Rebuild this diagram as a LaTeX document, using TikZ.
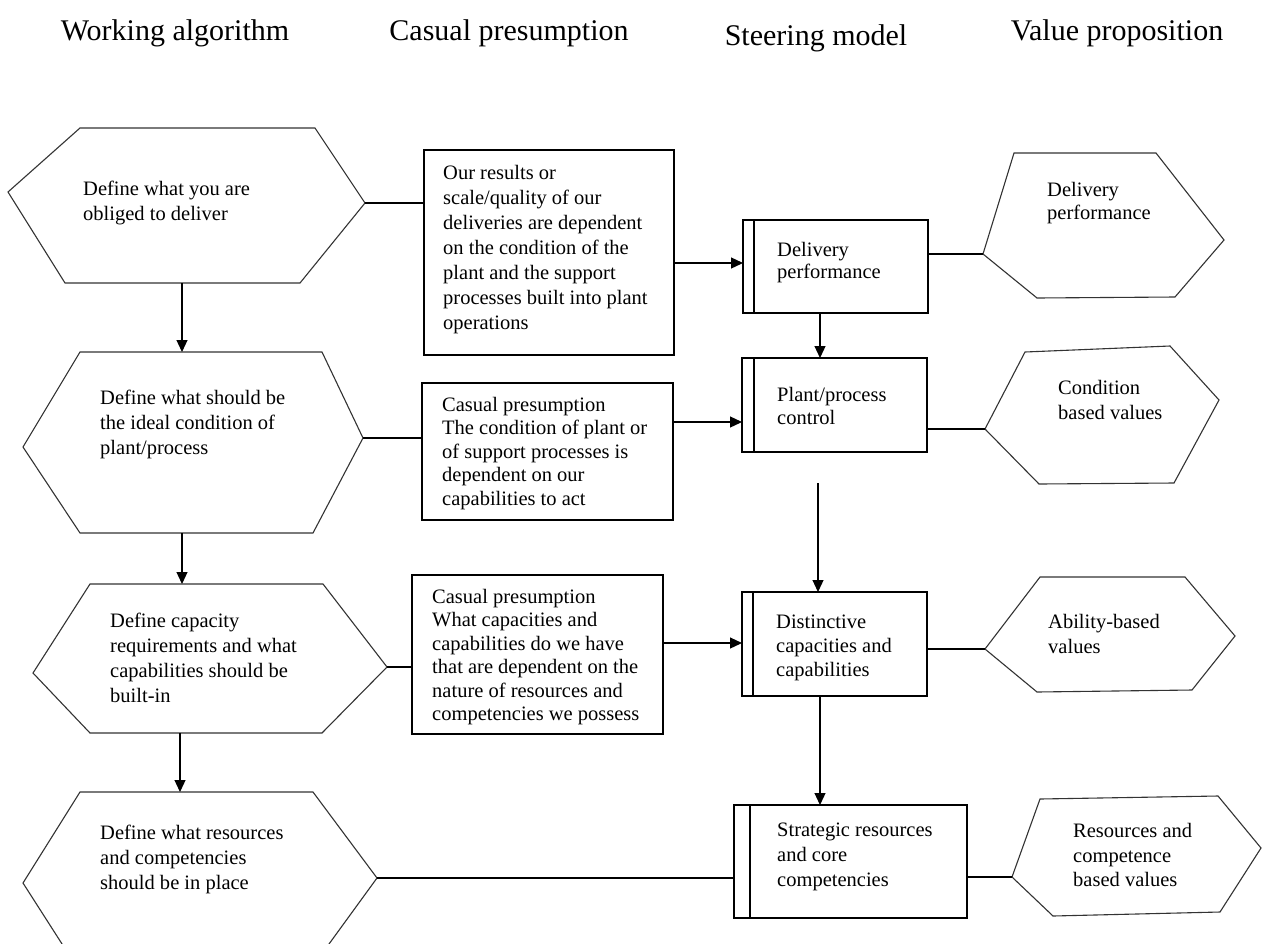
\documentclass[tikz,border=0pt]{standalone}
\usepackage{fontspec}
\setmainfont{Liberation Serif}
\usetikzlibrary{arrows.meta,calc}
\begin{document}
\begin{tikzpicture}[x=1pt,y=-1pt,
  hexe/.style={draw=black!80, line width=1.1pt, line join=miter},
  boxe/.style={draw, line width=1.3pt, rectangle, inner sep=0pt, outer sep=0pt, anchor=north west},
  txt/.style={anchor=north west, inner sep=0pt, align=left, font=\fontsize{20.5}{25}\selectfont},
  txtb/.style={txt, font=\fontsize{20.5}{23.4}\selectfont},
  ttl/.style={font=\fontsize{30}{36}\selectfont, inner sep=0pt},
  arr/.style={line width=1.2pt, -{Triangle[length=12pt,width=11pt]}},
  con/.style={line width=1.2pt}]
\fill[white] (0,0) rectangle (1263,943);
\useasboundingbox (0,0) rectangle (1263,943);

% titles
\node[ttl] (t1) at (175,33) {Working algorithm};
\node[ttl] (t2) at (509,33) {Casual presumption};
\node[ttl] (t3) at (816,38) {Steering model};
\node[ttl] (t4) at (1117,33) {Value proposition};

% left hexagons (working algorithm)
\coordinate (H1r) at (365,203); \coordinate (H1b) at (182,283);
\coordinate (H2t) at (182,352); \coordinate (H2r) at (363,438); \coordinate (H2b) at (182,533);
\coordinate (H3t) at (182,584); \coordinate (H3r) at (387,667); \coordinate (H3b) at (180,733);
\coordinate (H4t) at (180,792); \coordinate (H4r) at (377,878);
\draw[hexe] (80,128) -- (315,128) -- (H1r) -- (300,283) -- (65,283) -- (8,192) -- cycle;
\draw[hexe] (80,352) -- (322,352) -- (H2r) -- (313,533) -- (80,533) -- (23,447) -- cycle;
\draw[hexe] (90,584) -- (323,584) -- (H3r) -- (322,733) -- (90,733) -- (33,673) -- cycle;
\begin{scope}
\clip (0,0) rectangle (1263,943);
\draw[hexe] (80,792) -- (313,792) -- (H4r) -- (313,966) -- (80,972) -- (23,883) -- cycle;
\end{scope}

\node[txt] (L1) at (83,181) {Define what you are\\obliged to deliver};
\node[txt] (L2) at (100,390) {Define what should be\\the ideal condition of\\plant/process};
\node[txt] (L3) at (110,613) {Define capacity\\requirements and what\\capabilities should be\\built-in};
\node[txt] (L4) at (100,825) {Define what resources\\and competencies\\should be in place};

% causal presumption boxes
\node[boxe, minimum width=250pt, minimum height=205pt] (C1) at (424,150) {};
\node[boxe, minimum width=251pt, minimum height=137pt] (C2) at (422,383) {};
\node[boxe, minimum width=251pt, minimum height=159pt] (C3) at (412,575) {};
\node[txt] (C1t) at (443,165) {Our results or\\scale/quality of our\\deliveries are dependent\\on the condition of the\\plant and the support\\processes built into plant\\operations};
\node[txtb] (C2t) at (442,397) {Casual presumption\\The condition of plant or\\of support processes is\\dependent on our\\capabilities to act};
\node[txtb] (C3t) at (432,589) {Casual presumption\\What capacities and\\capabilities do we have\\that are dependent on the\\nature of resources and\\competencies we possess};

% steering model boxes
\node[boxe, minimum width=185pt, minimum height=93pt] (S1) at (743,220) {};
\node[boxe, minimum width=185pt, minimum height=94pt] (S2) at (742,358) {};
\node[boxe, minimum width=185pt, minimum height=104pt] (S3) at (742,592) {};
\node[boxe, minimum width=233pt, minimum height=113pt] (S4) at (734,805) {};
\draw[line width=1.3pt] ([xshift=11pt]S1.north west) -- ([xshift=11pt]S1.south west);
\draw[line width=1.3pt] ([xshift=12pt]S2.north west) -- ([xshift=12pt]S2.south west);
\draw[line width=1.3pt] ([xshift=11pt]S3.north west) -- ([xshift=11pt]S3.south west);
\draw[line width=1.3pt] ([xshift=16pt]S4.north west) -- ([xshift=16pt]S4.south west);
\node[txt, font=\fontsize{20.5}{22}\selectfont] (S1t) at (777,242) {Delivery\\performance};
\node[txtb] (S2t) at (777,387) {Plant/process\\control};
\node[txt, font=\fontsize{20.5}{24}\selectfont] (S3t) at (776,615) {Distinctive\\capacities and\\capabilities};
\node[txt] (S4t) at (777,823) {Strategic resources\\and core\\competencies};

% value proposition hexagons
\coordinate (V1l) at (983,254);
\coordinate (V2l) at (985,429);
\coordinate (V3l) at (985,649);
\coordinate (V4l) at (1012,877);
\draw[hexe] (1014,153) -- (1156,153) -- (1224,240) -- (1175,297) -- (1037,298) -- (V1l) -- cycle;
\draw[hexe] (1025,352) -- (1170,346) -- (1219,400) -- (1174,483) -- (1039,484) -- (V2l) -- cycle;
\draw[hexe] (1040,577) -- (1185,577) -- (1235,636) -- (1192,690) -- (1037,692) -- (V3l) -- cycle;
\draw[hexe] (1040,799) -- (1218,796) -- (1261,848) -- (1220,912) -- (1053,916) -- (V4l) -- cycle;
\node[txtb] (V1t) at (1047,182) {Delivery\\performance};
\node[txt] (V2t) at (1058,380) {Condition\\based values};
\node[txt] (V3t) at (1048,614) {Ability-based\\values};
\node[txt, font=\fontsize{20.5}{24.7}\selectfont] (V4t) at (1073,823) {Resources and\\competence\\based values};

% connectors: left column
\draw[arr] (H1b) -- (H2t);
\draw[arr] (H2b) -- (H3t);
\draw[arr] (H3b) -- (H4t);
% rows
\draw[con] (H1r) -- (H1r -| C1.west);
\draw[arr] ([yshift=-113pt]C1.north east) -- ([yshift=-113pt]C1.north east -| S1.west);
\draw[con] (V1l -| S1.east) -- (V1l);
\draw[arr] ([xshift=77pt]S1.south west) -- ([xshift=77pt]S1.south west |- S2.north);

\draw[con] (H2r) -- (H2r -| C2.west);
\draw[arr] ([yshift=-39pt]C2.north east) -- ([yshift=-39pt]C2.north east -| S2.west);
\draw[con] (V2l -| S2.east) -- (V2l);
\coordinate (g1) at (818,483);
\draw[arr] (g1) -- (g1 |- S3.north);

\draw[con] (H3r) -- (H3r -| C3.west);
\draw[arr] ([yshift=-68pt]C3.north east) -- ([yshift=-68pt]C3.north east -| S3.west);
\draw[con] (V3l -| S3.east) -- (V3l);
\draw[arr] ([xshift=78pt]S3.south west) -- ([xshift=78pt]S3.south west |- S4.north);

\draw[con] (H4r) -- (H4r -| S4.west);
\draw[con] (V4l -| S4.east) -- (V4l);
\end{tikzpicture}
\end{document}
